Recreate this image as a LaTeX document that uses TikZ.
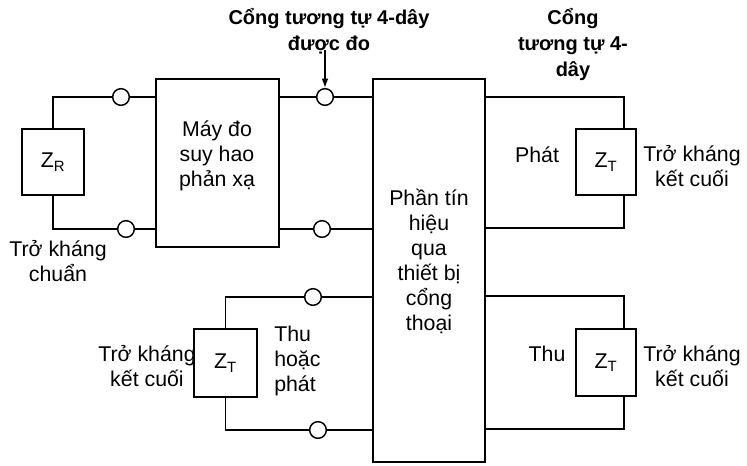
\documentclass[tikz,border=0pt]{standalone}
\usepackage{fontspec}
\setmainfont{Liberation Sans}
\usetikzlibrary{arrows.meta}
\begin{document}
\begin{tikzpicture}[x=0.75pt,y=-0.75pt,
  wire/.style={line width=1.1pt},
  box/.style={draw,line width=1.1pt,rectangle,inner sep=0pt},
  term/.style={draw,line width=1.1pt,circle,fill=white,minimum size=12.5pt,inner sep=0pt},
  txt/.style={font=\fontsize{16}{18.75}\selectfont,align=center,inner sep=0pt},
  lbl/.style={font=\bfseries\fontsize{15}{19.5}\selectfont,align=center,inner sep=0pt}]
\useasboundingbox (0,0) rectangle (747,465);
% boxes
\node[box,minimum width=46.5pt,minimum height=49.5pt] (zr) at (53,162) {\fontsize{16}{18}\selectfont Z\textsubscript{R}};
\node[box,minimum width=92.25pt,minimum height=126pt] (meter) at (217.5,163) {};
\node[box,minimum width=84pt,minimum height=287.25pt] (gw) at (429,270.5) {};
\node[box,minimum width=45pt,minimum height=49.5pt] (zt1) at (606,162) {\fontsize{16}{18}\selectfont Z\textsubscript{T}};
\node[box,minimum width=45pt,minimum height=50pt] (zt2) at (606,362.5) {\fontsize{16}{18}\selectfont Z\textsubscript{T}};
\node[box,minimum width=47pt,minimum height=51pt] (zt3) at (225.5,363) {\fontsize{16}{18}\selectfont Z\textsubscript{T}};
% terminals
\node[term] (c1) at (121,97) {};
\node[term] (c2) at (126,229) {};
\node[term] (c3) at (325,97) {};
\node[term] (c4) at (322,229) {};
\node[term] (c5) at (313,297) {};
\node[term] (c6) at (318,430) {};
% corners
\coordinate (r1) at (624,97);
\coordinate (r2) at (624,228);
\coordinate (r3) at (624,296);
\coordinate (r4) at (624,429);
% wires
\draw[wire] (zr.north) |- (c1);
\draw[wire] (c1) -- (c1 -| meter.west);
\draw[wire] (zr.south) |- (c2);
\draw[wire] (c2) -- (c2 -| meter.west);
\draw[wire] (meter.east |- c3) -- (c3);
\draw[wire] (c3) -- (c3 -| gw.west);
\draw[wire] (meter.east |- c4) -- (c4);
\draw[wire] (c4) -- (c4 -| gw.west);
\draw[wire] (zt3.north) |- (c5);
\draw[wire] (c5) -- (c5 -| gw.west);
\draw[wire] (zt3.south) |- (c6);
\draw[wire] (c6) -- (c6 -| gw.west);
\draw[wire] (gw.east |- r1) -- (r1) -- (r1 |- zt1.north);
\draw[wire] (r2 |- zt1.south) -- (r2) -- (gw.east |- r2);
\draw[wire] (gw.east |- r3) -- (r3) -- (r3 |- zt2.north);
\draw[wire] (r4 |- zt2.south) -- (r4) -- (gw.east |- r4);
% texts
\node[txt] (tmeter) at (217,156) {Máy đo\\suy hao\\phản xạ};
\node[txt] (tgw) at (429,261) {Phần tín\\hiệu\\qua\\thiết bị\\cổng\\thoại};
\node[txt] (tchuan) at (58,261) {Trở kháng\\chuẩn};
\node[txt] (tphat) at (537,155) {Phát};
\node[txt] (tk1) at (692,166) {Trở kháng\\kết cuối};
\node[txt] (tthu) at (547,354) {Thu};
\node[txt] (tk2) at (692,366) {Trở kháng\\kết cuối};
\node[txt] (tk3) at (147,366) {Trở kháng\\kết cuối};
\node[txt,align=left,anchor=west] (thp) at (274,361) {Thu\\hoặc\\phát};
\node[lbl] (top1) at (329,31) {Cổng tương tự 4-dây\\được đo};
\node[lbl] (top2) at (573,44) {Cổng\\tương tự 4-\\dây};
\draw[line width=1pt,-{Latex[length=7pt,width=5pt]}] (top1.south -| c3) ++(0,-4) -- (c3.north);
\end{tikzpicture}
\end{document}
